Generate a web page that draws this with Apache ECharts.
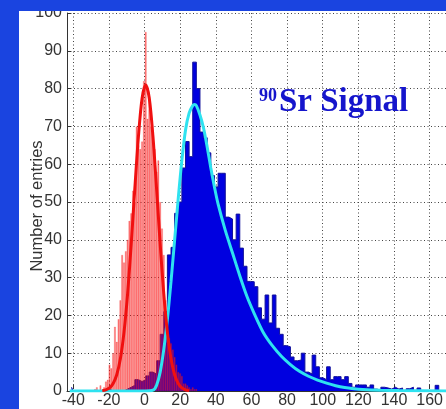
<!DOCTYPE html>
<html>
<head>
<meta charset="utf-8">
<script src="https://cdn.jsdelivr.net/npm/echarts@6/dist/echarts.min.js"></script>
<style>
    html, body { margin: 0; padding: 0; background: #1a44e0; }
    #hist { width: 446px; height: 409px; }
</style>
</head>
<body>
<div id="hist"></div>
<script>
// blue (90Sr signal) histogram, 2-unit bins, first bin centred at -41
var blueStart = -41;
var blueStep = 2;
var blueCounts = [
    1, 0, 0, 0, 0, 0, 0, 0, 0, 0,
    0.5, 0, 0, 0, 0, 0.5, 1, 1.5, 3, 2.5,
    3, 4, 5, 4.5, 8, 15, 21, 36, 38, 47,
    50, 59, 66, 62, 87, 80, 68.5, 67, 63, 57,
    54, 57.6, 57.6, 46, 45.5, 40, 46.8, 37.8, 33, 29,
    28.9, 27.6, 22, 19, 25.4, 18, 25.4, 16.6, 15, 12,
    11.7, 9, 8, 8.2, 10, 5, 4.5, 9.5, 6.4, 3.5,
    3, 6.4, 3, 3.8, 3.8, 3, 3.8, 2, 1, 1.6,
    1.6, 1.6, 1, 1.6, 0.5, 0, 1, 0.8, 0.5, 1,
    0.5, 0.8, 0, 0.6, 1, 0, 0.8, 0, 0, 0,
    0, 1.5, 0, 0
];

// red (pedestal / noise) histogram, 1-unit bins, first bin at -28
var redStart = -28;
var redStep = 1;
var redCounts = [
    0.5, 1, 0, 1.5, 0, 1, 2.5, 3, 7, 6,
    10, 17, 13, 19, 24, 36, 34, 37, 40, 45,
    47, 53, 50, 70, 65, 64, 66, 82, 95, 72,
    78, 70, 66, 64, 58, 61, 50, 43, 36, 24,
    17.5, 14, 12.6, 11, 9, 7, 5, 4.7, 4, 2,
    2, 1.5, 1, 0.5, 1, 0.5, 0.5
];

// gaussian fit to the noise
var redFitX = [-24, -22, -20, -18, -16, -14, -12, -10, -8, -6, -4, -2, 0, 2, 4, 6, 8, 10, 12, 14, 16, 18, 20, 22, 24];
var redFitY = [0.1, 0.3, 0.8, 2, 4.3, 8.5, 15.5, 25.7, 38.9, 53.6, 67.4, 77.4, 81, 77.4, 67.4, 53.6, 38.9, 25.7, 15.5, 8.5, 4.3, 2, 0.8, 0.3, 0.1];

// landau fit to the signal
var cyanFitX = [-42, 0, 4, 6, 8, 10, 12, 14, 16, 18, 20, 22, 24, 26, 27, 28, 30, 32, 34, 36, 38, 40, 44, 48, 52, 56, 60, 65, 70, 75, 80, 85, 90, 95, 100, 105, 110, 115, 120, 130, 140, 166];
var cyanFitY = [0, 0, 0.2, 1.5, 5, 11, 19, 29, 40, 51, 61, 69, 73.5, 75.5, 75.8, 75.5, 73, 69.5, 64.5, 59, 54, 49.5, 42.5, 36.5, 30.5, 25, 20.5, 15.5, 12, 9.2, 7, 5.2, 3.9, 2.9, 2.1, 1.4, 0.9, 0.6, 0.4, 0.2, 0.1, 0];

var xTicks = { min: -40, max: 160, step: 20 };
var yTicks = { min: 0, max: 100, step: 10 };

function pairs(xs, ys) {
    var out = [];
    for (var i = 0; i < xs.length; i++) out.push([xs[i], ys[i]]);
    return out;
}

function binned(start, step, counts) {
    var out = [];
    for (var i = 0; i < counts.length; i++) out.push([start + step * i, counts[i]]);
    return out;
}

var labelFont = "'Liberation Sans Narrow', 'Liberation Sans', Arial, sans-serif";
var dotted = { color: '#444', width: 1, type: [1, 2.5] };

window.onload = function () {
    var chart = echarts.init(document.getElementById('hist'), null, { renderer: 'canvas' });

    var option = {
        animation: false,
        backgroundColor: '#ffffff',
        grid: [
            // data grid (axis line sits a bit left of -40)
            { left: 67, right: 0, top: 13, bottom: 18 },
            // label / vertical grid-line grid, -40 .. 160
            { left: 73.3, right: 10.7, top: 13, bottom: 18 }
        ],
        xAxis: [{
            gridIndex: 0,
            type: 'value',
            min: -43.5,
            max: 166,
            axisLine: { show: true, onZero: false, lineStyle: { color: '#333', width: 1 } },
            axisTick: { show: false },
            axisLabel: { show: false },
            splitLine: { show: false }
        }, {
            gridIndex: 1,
            type: 'value',
            min: xTicks.min,
            max: xTicks.max,
            interval: xTicks.step,
            axisLine: { show: false },
            axisTick: { show: true, inside: true, length: 4, lineStyle: { color: '#333' } },
            axisLabel: { margin: 4, color: '#333', fontSize: 16, fontFamily: labelFont },
            splitLine: { show: true, lineStyle: dotted }
        }],
        yAxis: [{
            gridIndex: 0,
            type: 'value',
            min: yTicks.min,
            max: yTicks.max,
            interval: yTicks.step,
            axisLine: { show: true, onZero: false, lineStyle: { color: '#333', width: 1 } },
            axisTick: { show: true, inside: true, length: 4, lineStyle: { color: '#333' } },
            axisLabel: { margin: 5, color: '#333', fontSize: 16, fontFamily: labelFont },
            splitLine: { show: true, lineStyle: dotted }
        }, {
            gridIndex: 1,
            type: 'value',
            min: 0,
            max: 100,
            show: false
        }],
        series: [{
            // signal histogram
            type: 'line',
            xAxisIndex: 0,
            yAxisIndex: 0,
            step: 'middle',
            symbol: 'none',
            data: binned(blueStart, blueStep, blueCounts),
            lineStyle: { color: '#12129a', width: 1 },
            areaStyle: { color: '#0000e0', opacity: 1 },
            z: 2
        }, {
            // noise histogram, translucent over the signal
            type: 'bar',
            xAxisIndex: 0,
            yAxisIndex: 0,
            barWidth: 1.8,
            data: binned(redStart, redStep, redCounts),
            itemStyle: { color: 'rgba(255,30,30,0.58)', borderColor: 'rgba(230,0,0,0.35)', borderWidth: 0.5 },
            z: 3
        }, {
            type: 'line',
            xAxisIndex: 0,
            yAxisIndex: 0,
            smooth: 0.3,
            symbol: 'none',
            data: pairs(cyanFitX, cyanFitY),
            lineStyle: { color: '#2ee2f0', width: 3 },
            z: 4
        }, {
            type: 'line',
            xAxisIndex: 0,
            yAxisIndex: 0,
            smooth: 0.3,
            symbol: 'none',
            data: pairs(redFitX, redFitY),
            lineStyle: { color: '#f01010', width: 3 },
            z: 5
        }],
        graphic: [
            // slide background showing at the top and left
            { type: 'rect', shape: { x: 0, y: 0, width: 446, height: 11 }, style: { fill: '#1a44e0' }, z: 100 },
            { type: 'rect', shape: { x: 0, y: 0, width: 19, height: 409 }, style: { fill: '#1a44e0' }, z: 100 },
            {
                // y axis title
                type: 'text', z: 50,
                x: 37, y: 206, rotation: Math.PI / 2,
                style: { text: 'Number of entries', x: 0, y: 0, align: 'center', verticalAlign: 'middle', fill: '#333',
                    font: "16.5px 'Liberation Sans', Arial, sans-serif" }
            },
            {
                type: 'text', z: 50,
                style: { text: '90', x: 259, y: 96, verticalAlign: 'middle', fill: '#1515cc',
                    font: "bold 18px 'Liberation Serif', 'Times New Roman', serif" }
            },
            {
                type: 'text', z: 50,
                style: { text: 'Sr Signal', x: 279, y: 102, verticalAlign: 'middle', fill: '#1515cc',
                    font: "bold 33px 'Liberation Serif', 'Times New Roman', serif" }
            }
        ]
    };
    chart.setOption(option);
};
</script>
</body>
</html>
